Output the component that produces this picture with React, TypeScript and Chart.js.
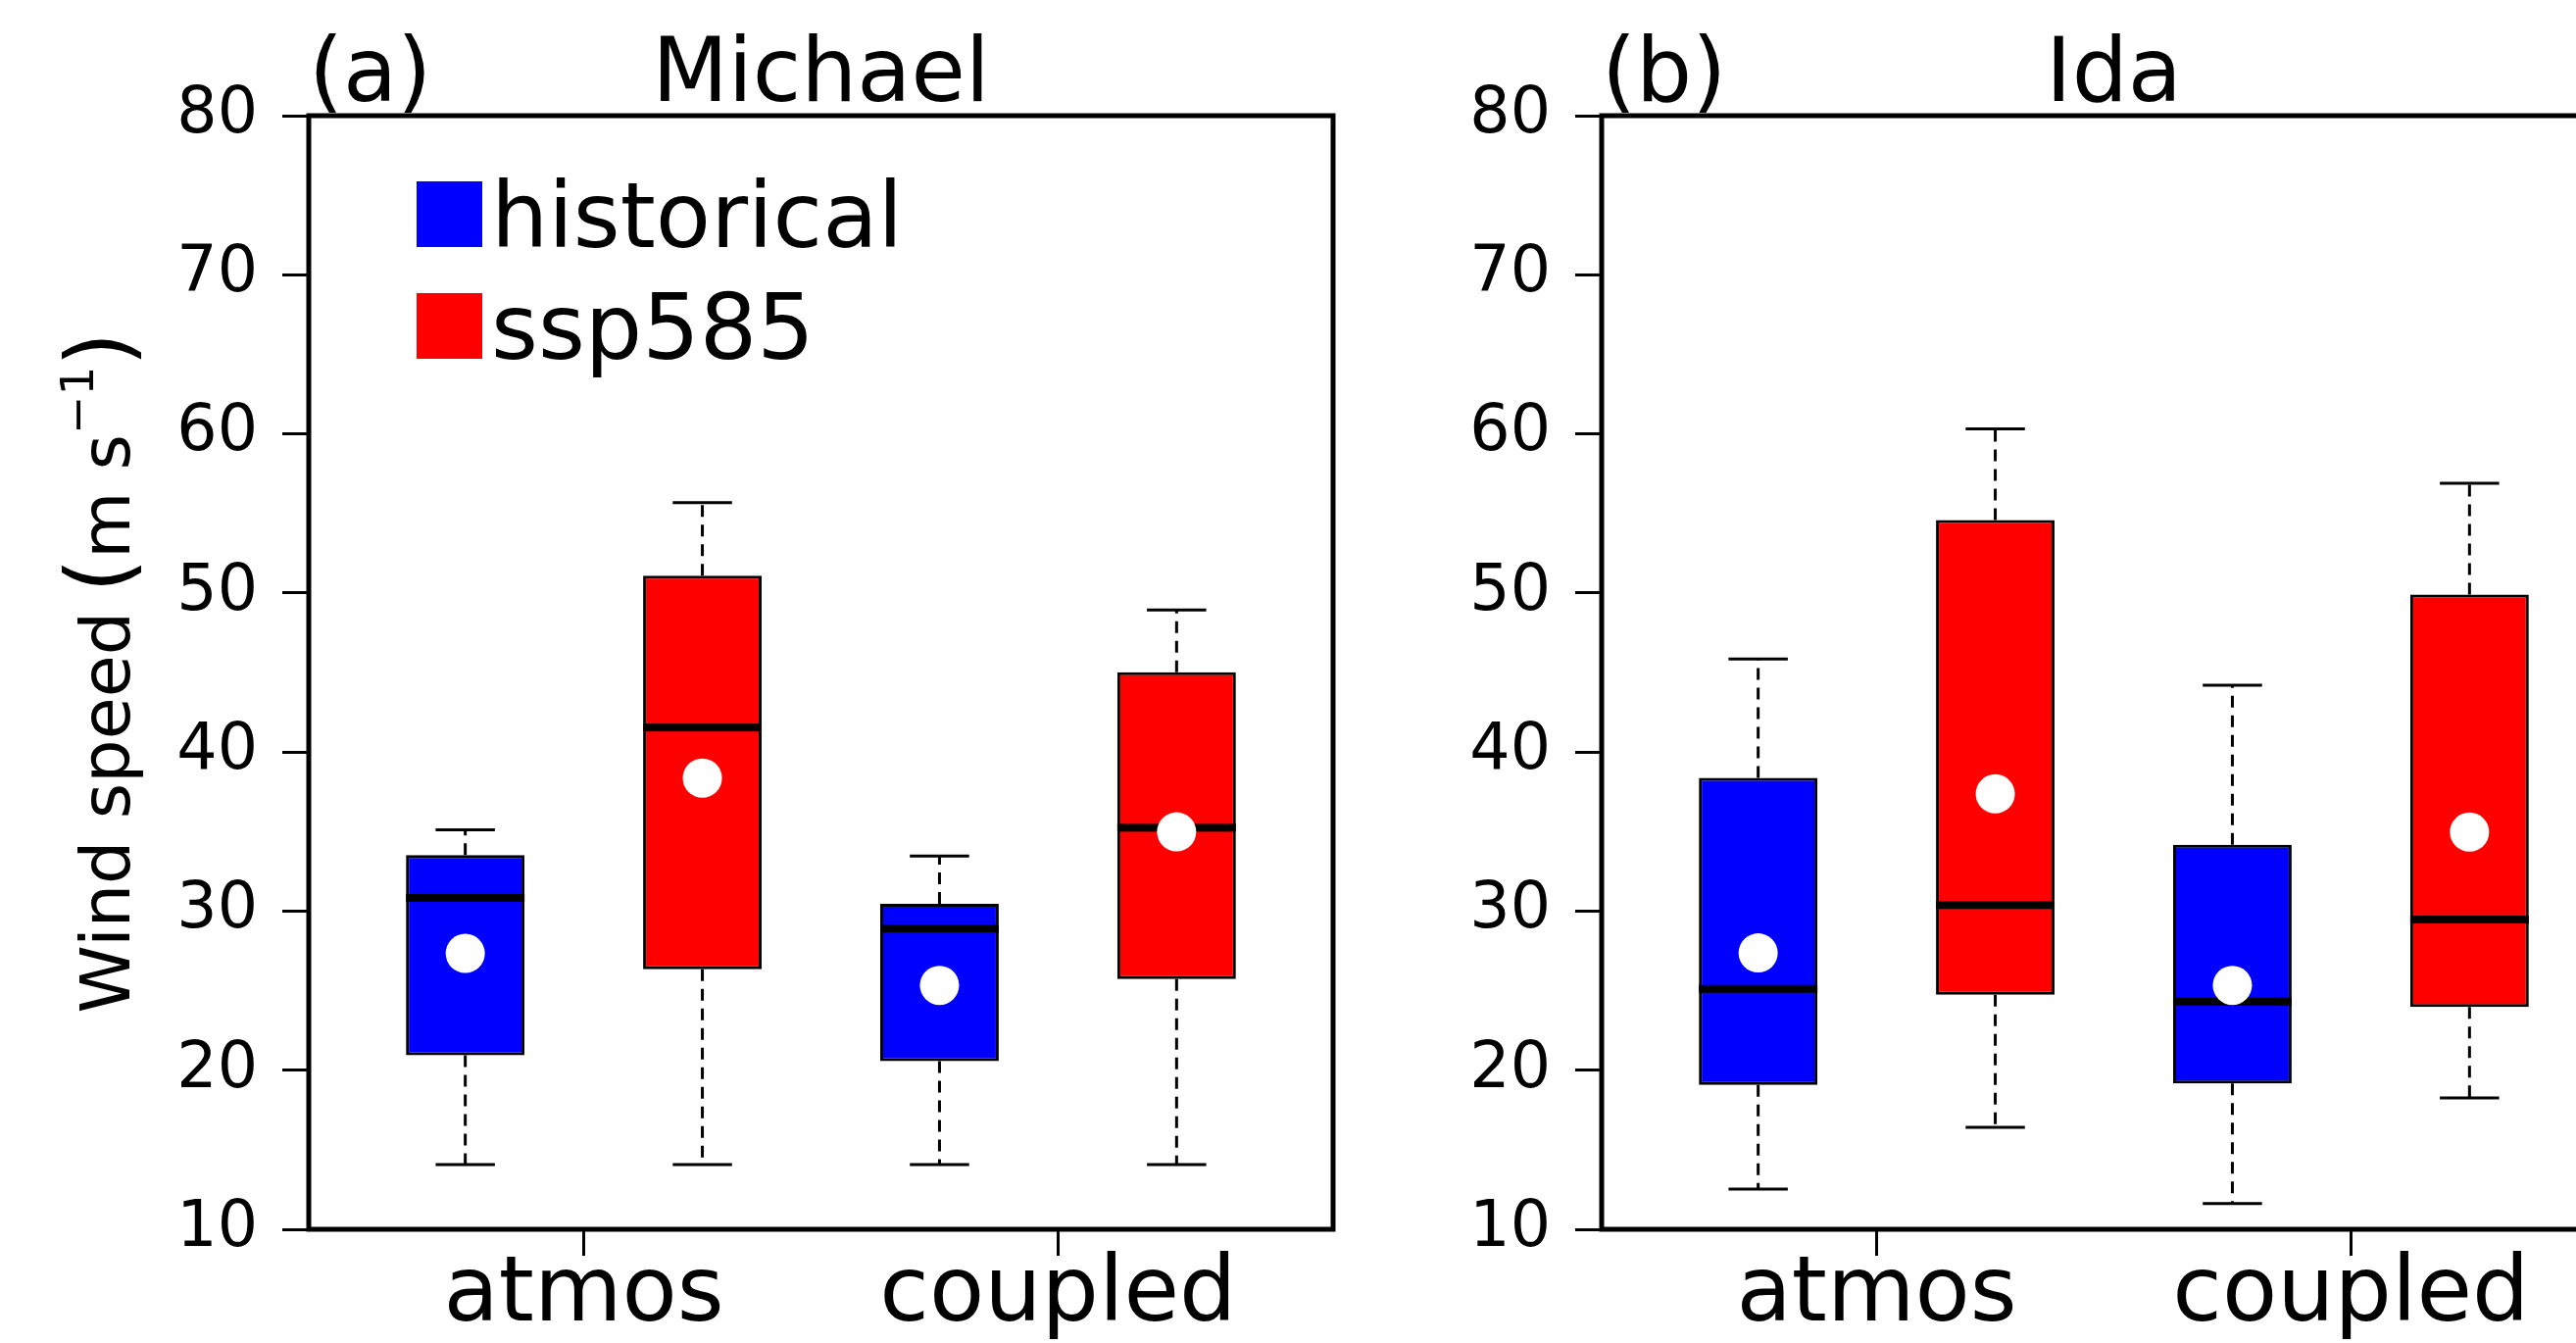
import React, { useEffect, useRef } from 'react';
import { Chart, registerables } from 'chart.js';

Chart.register(...registerables);

// ---------------- data ----------------
const categories = ['atmos', 'coupled'];
const scenarios = ['historical', 'ssp585'];
const scenarioColors = ['#0000ff', '#ff0000'];
const yTickValues = [10, 20, 30, 40, 50, 60, 70, 80];

// order of boxes: atmos-historical, atmos-ssp585, coupled-historical, coupled-ssp585
const michaelMin = [14.06, 14.06, 14.06, 14.06];
const michaelQ1 = [20.94, 26.35, 20.57, 25.73];
const michaelMedian = [30.83, 41.54, 28.9, 35.24];
const michaelQ3 = [33.52, 51.08, 30.46, 45.02];
const michaelMax = [35.11, 55.68, 33.46, 48.93];
const michaelMean = [27.34, 38.36, 25.33, 34.98];

const idaMin = [12.53, 16.41, 11.62, 18.26];
const idaQ1 = [19.07, 24.74, 19.16, 23.97];
const idaMedian = [25.11, 30.38, 24.31, 29.47];
const idaQ3 = [38.37, 54.58, 34.17, 49.9];
const idaMax = [45.84, 60.31, 44.2, 56.89];
const idaMean = [27.37, 37.37, 25.33, 34.97];

// ---------------- layout / style ----------------
const FONT = "'DejaVu Sans', sans-serif";
const BOX_WIDTH = 0.5; // in x units (boxes at 1..4)
const X_MIN = 0.34;
const X_MAX = 4.66;
const CANVAS_H = 1370;

type Panel = {
  tag: string;
  title: string;
  min: number[];
  q1: number[];
  median: number[];
  q3: number[];
  max: number[];
  mean: number[];
  legend: boolean;
  yTitle: boolean;
  canvasLeft: number;
  canvasWidth: number;
  yAxisWidth: number;
  padRight: number;
};

const panels: Panel[] = [
  {
    tag: '(a)', title: 'Michael',
    min: michaelMin, q1: michaelQ1, median: michaelMedian, q3: michaelQ3, max: michaelMax, mean: michaelMean,
    legend: true, yTitle: true, canvasLeft: 0, canvasWidth: 1400, yAxisWidth: 315, padRight: 40,
  },
  {
    tag: '(b)', title: 'Ida',
    min: idaMin, q1: idaQ1, median: idaMedian, q3: idaQ3, max: idaMax, mean: idaMean,
    legend: false, yTitle: false, canvasLeft: 1400, canvasWidth: 1320, yAxisWidth: 234, padRight: 41,
  },
];

const boxPositions: number[] = [];
categories.forEach((_, c) => scenarios.forEach((_, s) => boxPositions.push(c * scenarios.length + s + 1)));
const categoryTicks = categories.map((_, c) => c * scenarios.length + (scenarios.length + 1) / 2);
const boxColors = boxPositions.map((_, i) => scenarioColors[i % scenarios.length]);

function drawYTitle(ctx: CanvasRenderingContext2D, baselineX: number, centerY: number) {
  const pieces = [
    { t: 'Wind speed', size: 70, raise: 0, gap: 19 },
    { t: '(', size: 90, raise: 0, gap: 0 },
    { t: 'm', size: 70, raise: 0, gap: 22 },
    { t: 's', size: 70, raise: 0, gap: 0 },
    { t: '\u22121', size: 47, raise: 37, gap: 0 },
    { t: ')', size: 90, raise: 0, gap: 0 },
  ];
  let total = 0;
  const widths = pieces.map((p) => {
    ctx.font = `${p.size}px ${FONT}`;
    return ctx.measureText(p.t).width;
  });
  pieces.forEach((p, i) => { total += widths[i] + (i < pieces.length - 1 ? p.gap : 0); });
  ctx.save();
  ctx.translate(baselineX, centerY);
  ctx.rotate(-Math.PI / 2);
  ctx.fillStyle = '#000';
  ctx.textBaseline = 'alphabetic';
  ctx.textAlign = 'left';
  let x = -total / 2;
  pieces.forEach((p, i) => {
    ctx.font = `${p.size}px ${FONT}`;
    ctx.fillText(p.t, x, -p.raise);
    x += widths[i] + p.gap;
  });
  ctx.restore();
}

function makePlugin(p: Panel) {
  return {
    id: 'boxplotExtras',
    beforeDatasetsDraw(chart: any) {
      const { ctx, scales } = chart;
      const xs = scales.x, ys = scales.y;
      const capHalf = (xs.getPixelForValue(1 + BOX_WIDTH / 4) - xs.getPixelForValue(1));
      ctx.save();
      ctx.strokeStyle = '#000';
      ctx.lineWidth = 3;
      boxPositions.forEach((pos, i) => {
        const cx = xs.getPixelForValue(pos);
        ctx.setLineDash([12, 8]);
        ctx.beginPath();
        ctx.moveTo(cx, ys.getPixelForValue(p.q3[i]));
        ctx.lineTo(cx, ys.getPixelForValue(p.max[i]));
        ctx.moveTo(cx, ys.getPixelForValue(p.q1[i]));
        ctx.lineTo(cx, ys.getPixelForValue(p.min[i]));
        ctx.stroke();
        ctx.setLineDash([]);
        ctx.beginPath();
        const yMax = ys.getPixelForValue(p.max[i]);
        const yMin = ys.getPixelForValue(p.min[i]);
        ctx.moveTo(cx - capHalf, yMax);
        ctx.lineTo(cx + capHalf, yMax);
        ctx.moveTo(cx - capHalf, yMin);
        ctx.lineTo(cx + capHalf, yMin);
        ctx.stroke();
      });
      ctx.restore();
    },
    afterDatasetDraw(chart: any, args: any) {
      if (args.index !== 1) return;
      const { ctx, scales } = chart;
      const xs = scales.x, ys = scales.y;
      const half = (xs.getPixelForValue(1 + BOX_WIDTH / 2) - xs.getPixelForValue(1));
      ctx.save();
      ctx.fillStyle = '#000';
      boxPositions.forEach((pos, i) => {
        const cx = xs.getPixelForValue(pos);
        const y = ys.getPixelForValue(p.median[i]);
        ctx.fillRect(cx - half, y - 4, half * 2, 8);
      });
      ctx.restore();
    },
    afterDraw(chart: any) {
      const { ctx, chartArea } = chart;
      const { left, right, top, bottom } = chartArea;
      ctx.save();
      // frame
      ctx.strokeStyle = '#000';
      ctx.lineWidth = 5;
      ctx.strokeRect(left, top, right - left, bottom - top);
      // titles
      ctx.fillStyle = '#000';
      ctx.font = `90px ${FONT}`;
      ctx.textBaseline = 'alphabetic';
      ctx.textAlign = 'left';
      ctx.fillText(p.tag, left, 103);
      ctx.textAlign = 'center';
      ctx.fillText(p.title, (left + right) / 2, 103);
      // legend
      if (p.legend) {
        ctx.textAlign = 'left';
        scenarios.forEach((name, s) => {
          const base = top + 134 + s * 114;
          ctx.fillStyle = scenarioColors[s];
          ctx.fillRect(left + 110, base - 67, 67, 67);
          ctx.fillStyle = '#000';
          ctx.font = `92px ${FONT}`;
          ctx.fillText(name, left + 186, base);
        });
      }
      if (p.yTitle) {
        drawYTitle(ctx, 132, (top + bottom) / 2);
      }
      ctx.restore();
    },
  };
}

function PanelChart({ p }: { p: Panel }) {
  const ref = useRef<HTMLCanvasElement | null>(null);
  useEffect(() => {
    if (!ref.current) return;
    const boxData = boxPositions.map((x, i) => ({ x, y: [p.q1[i], p.q3[i]] }));
    const meanData = boxPositions.map((x, i) => ({ x, y: p.mean[i] }));
    const chart = new Chart(ref.current, {
      type: 'bar',
      data: {
        datasets: [
          {
            type: 'scatter',
            label: 'mean',
            data: meanData as any,
            pointRadius: 20,
            pointHoverRadius: 20,
            pointBackgroundColor: '#ffffff',
            pointBorderWidth: 0,
            borderWidth: 0,
            showLine: false,
          } as any,
          {
            type: 'bar',
            label: 'box',
            data: boxData as any,
            backgroundColor: boxColors,
            borderColor: '#000000',
            borderWidth: 3,
            borderSkipped: false,
            barPercentage: BOX_WIDTH,
            categoryPercentage: 1,
          } as any,
        ],
      },
      options: {
        animation: false,
        responsive: false,
        events: [],
        layout: { padding: { left: 0, right: p.padRight, top: 118, bottom: 0 } },
        plugins: { legend: { display: false }, tooltip: { enabled: false }, title: { display: false } },
        scales: {
          x: {
            type: 'linear',
            min: X_MIN,
            max: X_MAX,
            offset: false,
            border: { display: false },
            grid: { offset: false, drawOnChartArea: false, drawTicks: true, tickLength: 27, tickWidth: 3, tickColor: '#000' },
            ticks: {
              autoSkip: false,
              maxRotation: 0,
              minRotation: 0,
              padding: -13,
              color: '#000',
              font: { family: FONT, size: 92 },
              callback: (v: any) => {
                const i = categoryTicks.indexOf(Number(v));
                return i >= 0 ? categories[i] : '';
              },
            },
            afterBuildTicks: (s: any) => { s.ticks = categoryTicks.map((v) => ({ value: v })); },
            afterFit: (s: any) => { s.height = CANVAS_H - 1254; },
          } as any,
          y: {
            type: 'linear',
            min: yTickValues[0],
            max: yTickValues[yTickValues.length - 1],
            border: { display: false },
            grid: { drawOnChartArea: false, drawTicks: true, tickLength: 27, tickWidth: 3, tickColor: '#000' },
            ticks: {
              stepSize: 10,
              padding: 25,
              color: '#000',
              font: { family: FONT, size: 65 },
            },
            afterBuildTicks: (s: any) => { s.ticks = yTickValues.map((v) => ({ value: v })); },
            afterFit: (s: any) => { s.width = p.yAxisWidth; },
          } as any,
        },
      },
      plugins: [makePlugin(p)],
    });
    return () => chart.destroy();
  }, [p]);
  return (
    <canvas
      ref={ref}
      width={p.canvasWidth}
      height={CANVAS_H}
      style={{ position: 'absolute', left: p.canvasLeft, top: 0, width: p.canvasWidth, height: CANVAS_H }}
    />
  );
}

export default function App() {
  return (
    <div
      style={{
        position: 'fixed', left: 0, top: 0, width: 2628, height: CANVAS_H,
        overflow: 'hidden', background: '#ffffff',
      }}
    >
      {panels.map((p) => <PanelChart key={p.tag} p={p} />)}
    </div>
  );
}
